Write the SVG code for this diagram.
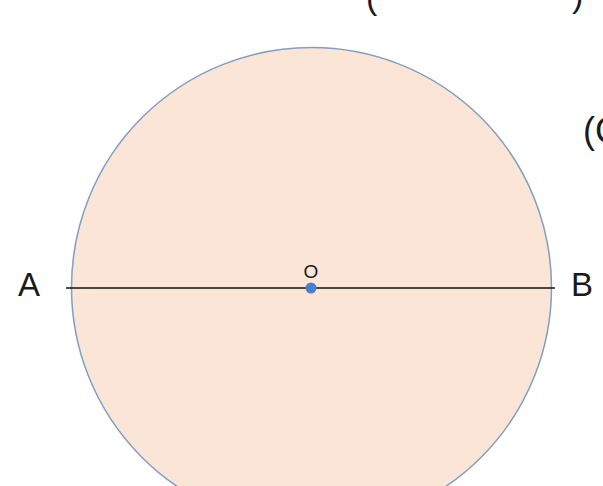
<svg xmlns="http://www.w3.org/2000/svg" width="603" height="486" viewBox="0 0 603 486">
<style>
.lbl{font-family:"Liberation Sans",Arial,sans-serif;fill:#1a1a1a}
</style>
<rect width="603" height="486" fill="#ffffff"/>
<g id="circle">
<circle cx="311.5" cy="287.5" r="240" fill="#fbe5d6" stroke="#7f9fc4" stroke-width="1.5"/>
</g>
<g id="connectors">
<line x1="66" y1="288" x2="555" y2="288" stroke="#111" stroke-width="1.6"/>
</g>
<g id="center">
<circle cx="311" cy="288" r="5.5" fill="#4a7fcb"/>
<text class="lbl" x="311" y="278" font-size="19" text-anchor="middle">O</text>
</g>
<g id="pointA"><text class="lbl" x="18" y="296" font-size="33">A</text></g>
<g id="pointB"><text class="lbl" x="571" y="296" font-size="33">B</text></g>
<g id="topText">
<text class="lbl" x="366" y="9" font-size="34">(</text>
<text class="lbl" x="572" y="7" font-size="34">)</text>
</g>
<g id="sideText"><text class="lbl" x="583" y="143" font-size="36">(C</text></g>
</svg>
